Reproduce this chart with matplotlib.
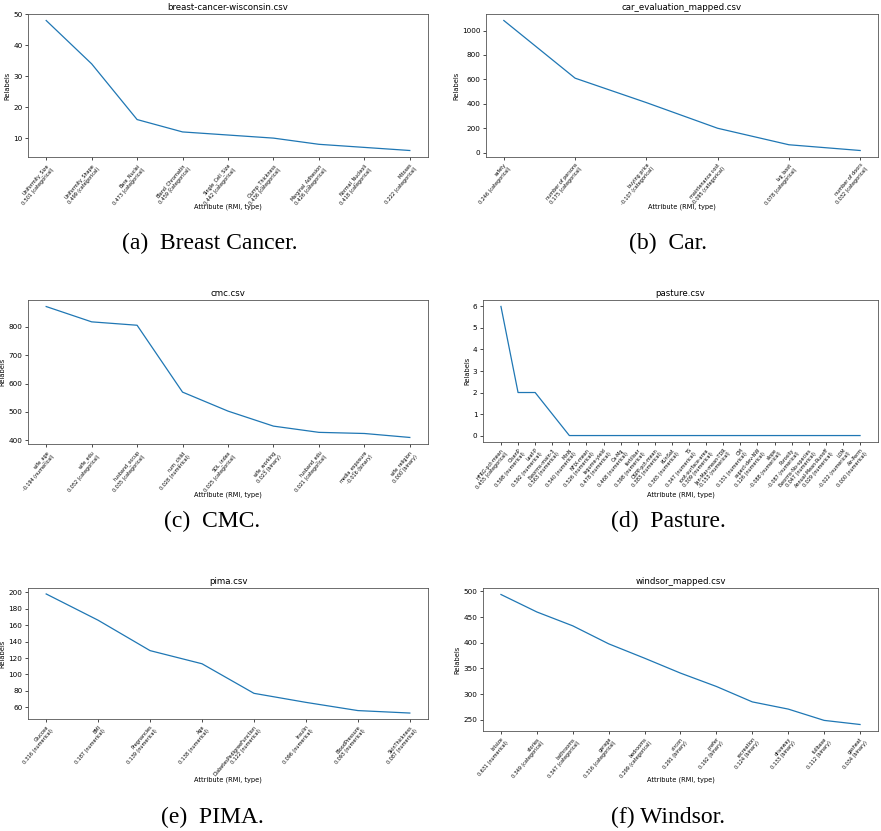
import matplotlib
matplotlib.use("Agg")
import matplotlib.pyplot as plt

# ---------------- data ----------------
bc_names = ["Uniformity_Size", "Uniformity_Shape", "Bare_Nuclei", "Bland_Chromatin",
            "Single_Cell_Size", "Clump_Thickness", "Marginal_Adhesion", "Normal_Nucleoli", "Mitoses"]
bc_rmi = ["0.501", "0.499", "0.473", "0.459", "0.442", "0.436", "0.426", "0.418", "0.222"]
bc_type = ["categorical"] * 9
bc_vals = [48, 34, 16, 12, 11, 10, 8, 7, 6]

car_names = ["safety", "number of persons", "buying price", "maintenance cost", "lug_boot", "number of doors"]
car_rmi = ["0.246", "0.175", "-0.107", "-0.095", "0.078", "0.032"]
car_type = ["categorical"] * 6
car_vals = [1082, 610, 410, 200, 65, 18]

cmc_names = ["wife_age", "wife_edu", "husband_occup", "num_child", "SOL_index",
             "wife_working", "husband_edu", "media_exposure", "wife_religion"]
cmc_rmi = ["-0.194", "0.052", "0.035", "0.028", "0.025", "0.023", "0.021", "-0.016", "0.000"]
cmc_type = ["numerical", "categorical", "categorical", "numerical", "categorical",
            "binary", "categorical", "binary", "binary"]
cmc_vals = [872, 818, 806, 570, 503, 450, 428, 424, 410]

pas_names = ["HFRG-pct-mean", "OlsenP", "Leaf-P", "Eworms-main-3", "MinN", "NFIX-mean",
             "legume-yield", "Ca-Mg", "fertiliser", "OSPP-pct-mean", "KUnSat", "TS",
             "root-surface-area", "Jan-Mar-mean-TDR", "OM", "aspect-dev-NW", "slope",
             "Porosity", "Eworms-No-species", "Annual-Mean-Runoff", "LOM", "Air-Perm"]
pas_rmi = ["0.455", "0.598", "0.592", "0.563", "0.540", "0.526", "0.478", "0.468", "0.398",
           "0.383", "0.365", "0.347", "0.309", "-0.153", "0.151", "0.126", "-0.088", "-0.087",
           "0.047", "0.029", "-0.022", "0.000"]
pas_type = ["categorical"] + ["numerical"] * 21
pas_vals = [6, 2, 2, 1] + [0] * 18

pima_names = ["Glucose", "BMI", "Pregnancies", "Age", "DiabetesPedigreeFunction",
              "Insulin", "BloodPressure", "SkinThickness"]
pima_rmi = ["0.316", "0.187", "0.139", "0.138", "0.122", "0.096", "0.093", "0.087"]
pima_type = ["numerical"] * 8
pima_vals = [198, 166, 129, 113, 77, 66, 56, 53]

win_names = ["lotsize", "stories", "bathrooms", "garage", "bedrooms", "aircon",
             "prefer", "recreation", "driveway", "fullbase", "gasheat"]
win_rmi = ["0.631", "0.349", "0.347", "0.316", "0.299", "0.291", "0.192", "0.124",
           "0.133", "0.112", "0.034"]
win_type = ["numerical", "categorical", "categorical", "categorical", "categorical",
            "binary", "binary", "binary", "binary", "binary", "binary"]
win_vals = [494, 460, 433, 398, 370, 341, 315, 285, 271, 249, 241]

panels = [
    ("breast-cancer-wisconsin.csv", bc_names, bc_rmi, bc_type, bc_vals, "(a)  Breast Cancer."),
    ("car_evaluation_mapped.csv", car_names, car_rmi, car_type, car_vals, "(b)  Car."),
    ("cmc.csv", cmc_names, cmc_rmi, cmc_type, cmc_vals, "(c)  CMC."),
    ("pasture.csv", pas_names, pas_rmi, pas_type, pas_vals, "(d)  Pasture."),
    ("pima.csv", pima_names, pima_rmi, pima_type, pima_vals, "(e)  PIMA."),
    ("windsor_mapped.csv", win_names, win_rmi, win_type, win_vals, "(f) Windsor."),
]

# axes boxes in pixels: (left, top, right, bottom), caption x, caption y, xlabel y
W, H = 881, 831
boxes = [
    (28, 14, 428, 157, 210, 243, 207),
    (486, 14, 878, 157, 668, 243, 207),
    (28, 300, 428, 444, 212, 521, 495),
    (483, 300, 878, 442, 668, 521, 495),
    (28, 588, 428, 719, 212, 817, 780),
    (483, 588, 878, 731, 668, 817, 780),
]

fig = plt.figure(figsize=(W / 100, H / 100), dpi=100)

for (title, names, rmi, typ, vals, cap), (l, t, r, b, cx, cy, xly) in zip(panels, boxes):
    ax = fig.add_axes([l / W, 1 - b / H, (r - l) / W, (b - t) / H])
    x = list(range(len(names)))
    ax.plot(x, vals, color="#1f77b4", lw=0.9)
    labels = [f"{n}\n{v} ({ty})" for n, v, ty in zip(names, rmi, typ)]
    ax.set_xticks(x)
    ax.set_xticklabels(labels, rotation=50, ha="right", rotation_mode="anchor", fontsize=3.5)
    ax.tick_params(axis="y", labelsize=5.2, length=2, width=0.5, pad=2)
    ax.tick_params(axis="x", length=2, width=0.5, pad=2)
    for s in ax.spines.values():
        s.set_linewidth(0.6)
        s.set_color("#555555")
    ax.set_title(title, fontsize=6.2, pad=3)
    ax.set_ylabel("Relabels", fontsize=4.8, labelpad=2)
    fig.text((l + r) / 2 / W, 1 - xly / H, "Attribute (RMI, type)", fontsize=4.8,
             ha="center", va="center")
    fig.text(cx / W, 1 - cy / H, cap, fontsize=17, ha="center", va="center",
             family=["Liberation Serif", "DejaVu Serif"])

fig.savefig("out.png", dpi=100)
